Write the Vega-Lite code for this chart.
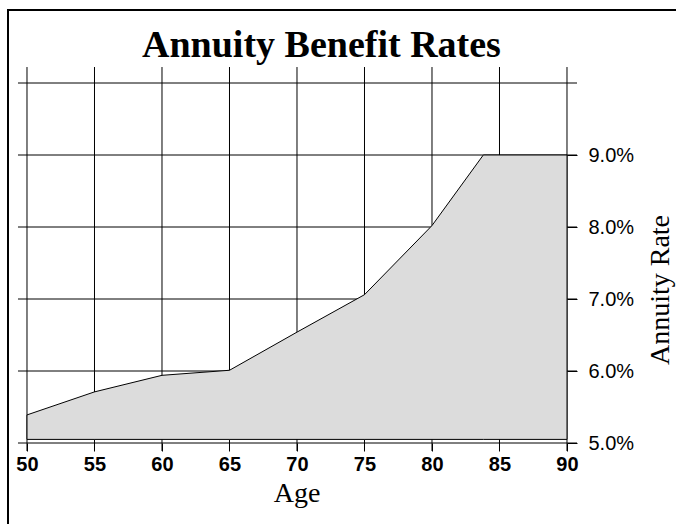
{
  "$schema": "https://vega.github.io/schema/vega-lite/v6.json",
  "width": 668,
  "height": 514,
  "autosize": {"type": "none"},
  "padding": {"left": 8, "top": 10, "right": 0, "bottom": 0},
  "background": "white",
  "view": {"stroke": "black", "strokeWidth": 2, "strokeDash": [668, 1182, 514, 0], "strokeCap": "square", "fill": "white"},
  "layer": [
    {
      "data": {"values": [{"age": 50}, {"age": 55}, {"age": 60}, {"age": 65}, {"age": 70}, {"age": 75}, {"age": 80}, {"age": 85}, {"age": 90}]},
      "mark": {"type": "rule", "color": "black", "strokeWidth": 1},
      "encoding": {
        "x": {"field": "age", "type": "quantitative", "scale": {"domain": [48.5926, 98.0741], "nice": false, "zero": false},
          "axis": {"orient": "bottom", "offset": -81, "values": [50, 55, 60, 65, 70, 75, 80, 85, 90], "domain": false, "grid": false, "ticks": true, "tickSize": 8, "tickColor": "black", "tickWidth": 1, "labelFont": "Liberation Sans", "labelFontWeight": "bold", "labelFontSize": 20, "labelColor": "black", "labelPadding": 3, "labelFlush": false, "labelOverlap": false, "labelBound": false, "title": null}},
        "y": {"datum": 0.10222, "type": "quantitative", "scale": {"domain": [0.03875, 0.110139], "nice": false, "zero": false},
          "axis": {"orient": "right", "offset": -109, "values": [0.05, 0.06, 0.07, 0.08, 0.09], "format": ".1%", "domain": false, "grid": false, "ticks": true, "tickSize": 10, "tickColor": "black", "tickWidth": 1, "labelFont": "Liberation Sans", "labelFontSize": 20, "labelColor": "black", "labelPadding": 11, "labelFlush": false, "labelOverlap": false, "labelBound": false, "title": null}},
        "y2": {"datum": 0.04889}
      }
    },
    {
      "data": {"values": [{"rate": 0.05}, {"rate": 0.06}, {"rate": 0.07}, {"rate": 0.08}, {"rate": 0.09}, {"rate": 0.10}]},
      "mark": {"type": "rule", "color": "black", "strokeWidth": 1},
      "encoding": {
        "y": {"field": "rate", "type": "quantitative", "scale": {"domain": [0.03875, 0.110139], "nice": false, "zero": false},
          "axis": {"orient": "right", "offset": -109, "values": [0.05, 0.06, 0.07, 0.08, 0.09], "format": ".1%", "domain": false, "grid": false, "ticks": true, "tickSize": 10, "tickColor": "black", "tickWidth": 1, "labelFont": "Liberation Sans", "labelFontSize": 20, "labelColor": "black", "labelPadding": 11, "labelFlush": false, "labelOverlap": false, "labelBound": false, "title": null}},
        "x": {"datum": 49.333, "type": "quantitative", "scale": {"domain": [48.5926, 98.0741], "nice": false, "zero": false},
          "axis": {"orient": "bottom", "offset": -81, "values": [50, 55, 60, 65, 70, 75, 80, 85, 90], "domain": false, "grid": false, "ticks": true, "tickSize": 8, "tickColor": "black", "tickWidth": 1, "labelFont": "Liberation Sans", "labelFontWeight": "bold", "labelFontSize": 20, "labelColor": "black", "labelPadding": 3, "labelFlush": false, "labelOverlap": false, "labelBound": false, "title": null}},
        "x2": {"datum": 90.741}
      }
    },
    {
      "data": {"values": [
        {"age": 50, "rate": 0.0539},
        {"age": 55, "rate": 0.0571},
        {"age": 60, "rate": 0.0594},
        {"age": 65, "rate": 0.0601},
        {"age": 70, "rate": 0.0654},
        {"age": 75, "rate": 0.0706},
        {"age": 80, "rate": 0.0802},
        {"age": 83.8, "rate": 0.09},
        {"age": 90, "rate": 0.09}
      ]},
      "mark": {"type": "area", "fill": "#dcdcdc", "fillOpacity": 1, "stroke": "black", "strokeWidth": 1},
      "encoding": {
        "x": {"field": "age", "type": "quantitative", "scale": {"domain": [48.5926, 98.0741], "nice": false, "zero": false},
          "axis": {"orient": "bottom", "offset": -81, "values": [50, 55, 60, 65, 70, 75, 80, 85, 90], "domain": false, "grid": false, "ticks": true, "tickSize": 8, "tickColor": "black", "tickWidth": 1, "labelFont": "Liberation Sans", "labelFontWeight": "bold", "labelFontSize": 20, "labelColor": "black", "labelPadding": 3, "labelFlush": false, "labelOverlap": false, "labelBound": false, "title": null}},
        "y": {"field": "rate", "type": "quantitative", "scale": {"domain": [0.03875, 0.110139], "nice": false, "zero": false},
          "axis": {"orient": "right", "offset": -109, "values": [0.05, 0.06, 0.07, 0.08, 0.09], "format": ".1%", "domain": false, "grid": false, "ticks": true, "tickSize": 10, "tickColor": "black", "tickWidth": 1, "labelFont": "Liberation Sans", "labelFontSize": 20, "labelColor": "black", "labelPadding": 11, "labelFlush": false, "labelOverlap": false, "labelBound": false, "title": null}},
        "y2": {"datum": 0.0505}
      }
    },
    {
      "data": {"values": [{"label": "Annuity Benefit Rates"}]},
      "mark": {"type": "text", "font": "Liberation Serif", "fontWeight": "bold", "fontSize": 38, "align": "center", "baseline": "alphabetic", "color": "black"},
      "encoding": {
        "text": {"field": "label"},
        "x": {"datum": 71.81, "type": "quantitative", "scale": {"domain": [48.5926, 98.0741], "nice": false, "zero": false},
          "axis": {"orient": "bottom", "offset": -81, "values": [50, 55, 60, 65, 70, 75, 80, 85, 90], "domain": false, "grid": false, "ticks": true, "tickSize": 8, "tickColor": "black", "tickWidth": 1, "labelFont": "Liberation Sans", "labelFontWeight": "bold", "labelFontSize": 20, "labelColor": "black", "labelPadding": 3, "labelFlush": false, "labelOverlap": false, "labelBound": false, "title": null}},
        "y": {"datum": 0.10361, "type": "quantitative", "scale": {"domain": [0.03875, 0.110139], "nice": false, "zero": false},
          "axis": {"orient": "right", "offset": -109, "values": [0.05, 0.06, 0.07, 0.08, 0.09], "format": ".1%", "domain": false, "grid": false, "ticks": true, "tickSize": 10, "tickColor": "black", "tickWidth": 1, "labelFont": "Liberation Sans", "labelFontSize": 20, "labelColor": "black", "labelPadding": 11, "labelFlush": false, "labelOverlap": false, "labelBound": false, "title": null}}
      }
    },
    {
      "data": {"values": [{"label": "Age"}]},
      "mark": {"type": "text", "font": "Liberation Serif", "fontSize": 28, "align": "center", "baseline": "alphabetic", "color": "black"},
      "encoding": {
        "text": {"field": "label"},
        "x": {"datum": 70, "type": "quantitative", "scale": {"domain": [48.5926, 98.0741], "nice": false, "zero": false},
          "axis": {"orient": "bottom", "offset": -81, "values": [50, 55, 60, 65, 70, 75, 80, 85, 90], "domain": false, "grid": false, "ticks": true, "tickSize": 8, "tickColor": "black", "tickWidth": 1, "labelFont": "Liberation Sans", "labelFontWeight": "bold", "labelFontSize": 20, "labelColor": "black", "labelPadding": 3, "labelFlush": false, "labelOverlap": false, "labelBound": false, "title": null}},
        "y": {"datum": 0.041806, "type": "quantitative", "scale": {"domain": [0.03875, 0.110139], "nice": false, "zero": false},
          "axis": {"orient": "right", "offset": -109, "values": [0.05, 0.06, 0.07, 0.08, 0.09], "format": ".1%", "domain": false, "grid": false, "ticks": true, "tickSize": 10, "tickColor": "black", "tickWidth": 1, "labelFont": "Liberation Sans", "labelFontSize": 20, "labelColor": "black", "labelPadding": 11, "labelFlush": false, "labelOverlap": false, "labelBound": false, "title": null}}
      }
    },
    {
      "data": {"values": [{"label": "Annuity Rate"}]},
      "mark": {"type": "text", "font": "Liberation Serif", "fontSize": 28, "align": "center", "baseline": "alphabetic", "angle": 270, "color": "black"},
      "encoding": {
        "text": {"field": "label"},
        "x": {"datum": 97.56, "type": "quantitative", "scale": {"domain": [48.5926, 98.0741], "nice": false, "zero": false},
          "axis": {"orient": "bottom", "offset": -81, "values": [50, 55, 60, 65, 70, 75, 80, 85, 90], "domain": false, "grid": false, "ticks": true, "tickSize": 8, "tickColor": "black", "tickWidth": 1, "labelFont": "Liberation Sans", "labelFontWeight": "bold", "labelFontSize": 20, "labelColor": "black", "labelPadding": 3, "labelFlush": false, "labelOverlap": false, "labelBound": false, "title": null}},
        "y": {"datum": 0.07125, "type": "quantitative", "scale": {"domain": [0.03875, 0.110139], "nice": false, "zero": false},
          "axis": {"orient": "right", "offset": -109, "values": [0.05, 0.06, 0.07, 0.08, 0.09], "format": ".1%", "domain": false, "grid": false, "ticks": true, "tickSize": 10, "tickColor": "black", "tickWidth": 1, "labelFont": "Liberation Sans", "labelFontSize": 20, "labelColor": "black", "labelPadding": 11, "labelFlush": false, "labelOverlap": false, "labelBound": false, "title": null}}
      }
    }
  ]
}
